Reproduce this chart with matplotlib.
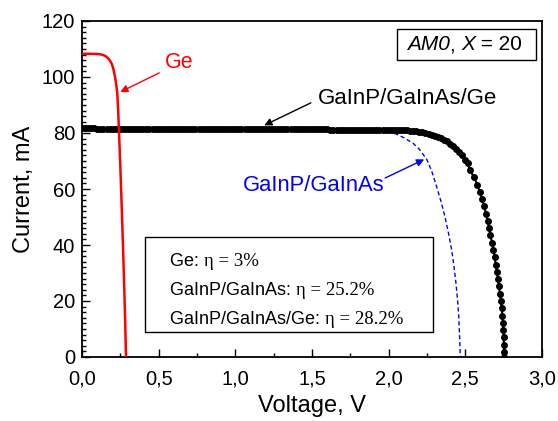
import matplotlib
matplotlib.use("Agg")
import matplotlib.pyplot as plt
from matplotlib.patches import Rectangle

plt.rcParams['font.family'] = ['Liberation Sans', 'DejaVu Sans']

# ---- data ----
ge_v = [0.00, 0.05, 0.10, 0.12, 0.14, 0.155, 0.17, 0.183, 0.194, 0.203, 0.211,
        0.218, 0.224, 0.23, 0.236, 0.241, 0.25, 0.259, 0.268, 0.276, 0.282, 0.287]
ge_i = [108.3, 108.3, 108.2, 108.1, 107.8, 107.4, 106.7, 105.8, 104.7, 103.2, 101.3,
        99.2, 96.9, 94.2, 88.0, 81.0, 68.0, 53.7, 38.5, 23.9, 12.0, 0.0]

tj_v = [0.00, 1.00, 1.80, 1.95, 2.01, 2.05, 2.10, 2.16, 2.20, 2.248, 2.28, 2.313,
        2.34, 2.367, 2.39, 2.411, 2.427, 2.439, 2.45, 2.457, 2.462, 2.466, 2.468]
tj_i = [81.2, 81.0, 80.8, 80.6, 80.3, 79.6, 78.3, 76.3, 74.2, 70.6, 66.5, 60.8,
        55.8, 50.1, 44.3, 38.2, 32.0, 26.3, 20.0, 14.4, 8.0, 2.0, 0.0]

mj_v = [0.00, 0.02, 0.04, 0.06, 0.08, 0.10, 0.12, 0.14, 0.16, 0.18, 0.20, 0.22,
        0.24, 0.26, 0.28, 0.30, 0.32, 0.34, 0.36, 0.38, 0.40, 0.42, 0.44, 0.46,
        0.48, 0.50, 0.52, 0.54, 0.56, 0.58, 0.60, 0.62, 0.64, 0.66, 0.68, 0.70,
        0.72, 0.74, 0.76, 0.78, 0.80, 0.82, 0.84, 0.86, 0.88, 0.90, 0.92, 0.94,
        0.96, 0.98, 1.00, 1.02, 1.04, 1.06, 1.08, 1.10, 1.12, 1.14, 1.16, 1.18,
        1.20, 1.22, 1.24, 1.26, 1.28, 1.30, 1.32, 1.34, 1.36, 1.38, 1.40, 1.42,
        1.44, 1.46, 1.48, 1.50, 1.52, 1.54, 1.56, 1.58, 1.60, 1.62, 1.64, 1.66,
        1.68, 1.70, 1.72, 1.74, 1.76, 1.78, 1.80, 1.82, 1.84, 1.86, 1.88, 1.90,
        1.92, 1.94, 1.96, 1.98, 2.00, 2.02, 2.04, 2.06, 2.08, 2.10, 2.12, 2.14,
        2.16, 2.18, 2.20, 2.22, 2.24, 2.26, 2.28, 2.30, 2.32, 2.34, 2.36, 2.38,
        2.40, 2.42, 2.44, 2.46, 2.48, 2.50, 2.515, 2.530, 2.556, 2.578, 2.594,
        2.609, 2.622, 2.635, 2.645, 2.655, 2.664, 2.674, 2.683, 2.691, 2.698,
        2.705, 2.712, 2.719, 2.726, 2.732, 2.737, 2.742, 2.745, 2.748, 2.750,
        2.752, 2.754, 2.755]
mj_i = [81.7, 81.7, 81.7, 81.7, 81.7, 81.6, 81.6, 81.6, 81.6, 81.6, 81.6, 81.6,
        81.6, 81.6, 81.6, 81.5, 81.5, 81.5, 81.5, 81.5, 81.5, 81.5, 81.5, 81.5,
        81.5, 81.5, 81.5, 81.5, 81.5, 81.5, 81.5, 81.4, 81.4, 81.4, 81.4, 81.4,
        81.4, 81.4, 81.4, 81.4, 81.4, 81.4, 81.4, 81.4, 81.4, 81.4, 81.4, 81.4,
        81.4, 81.4, 81.4, 81.4, 81.4, 81.4, 81.4, 81.4, 81.3, 81.3, 81.3, 81.3,
        81.3, 81.3, 81.3, 81.3, 81.3, 81.3, 81.3, 81.3, 81.3, 81.3, 81.3, 81.3,
        81.3, 81.3, 81.3, 81.3, 81.3, 81.3, 81.3, 81.3, 81.3, 81.2, 81.2, 81.2,
        81.2, 81.2, 81.2, 81.2, 81.2, 81.2, 81.2, 81.2, 81.2, 81.2, 81.2, 81.2,
        81.2, 81.2, 81.2, 81.2, 81.2, 81.1, 81.1, 81.0, 81.0, 80.9, 80.9, 80.8,
        80.7, 80.6, 80.4, 80.2, 80.0, 79.7, 79.4, 79.0, 78.6, 78.1, 77.6, 77.0,
        76.2, 75.4, 74.4, 73.3, 72.0, 70.5, 69.2, 66.8, 64.2, 61.6, 59.0,
        56.4, 53.8, 51.2, 48.6, 46.0, 43.4, 40.8, 38.2, 35.6, 33.0,
        30.4, 27.8, 25.2, 22.6, 20.0, 17.4, 14.8, 12.2, 9.6, 7.0,
        4.4, 1.8, 0.0]

xticks = [0.0, 0.5, 1.0, 1.5, 2.0, 2.5, 3.0]
xtick_labels = ["0,0", "0,5", "1,0", "1,5", "2,0", "2,5", "3,0"]
yticks = [0, 20, 40, 60, 80, 100, 120]

eff_names = ["Ge: ", "GaInP/GaInAs: ", "GaInP/GaInAs/Ge: "]
eff_values = ["η = 3%", "η = 25.2%", "η = 28.2%"]

# ---- figure ----
fig = plt.figure(figsize=(5.58, 4.21), dpi=100)
ax = fig.add_axes([82/558, 1-357/421, 460/558, 336/421])

ax.plot(tj_v, tj_i, color='blue', lw=1.0, ls=(0, (3, 2)), zorder=2)
ax.plot(mj_v, mj_i, color='black', lw=1.5, marker='o', ms=4.0, zorder=3)
ax.plot(ge_v, ge_i, color='red', lw=1.8, zorder=4)

ax.set_xlim(0, 3.0)
ax.set_ylim(0, 120)
ax.set_xticks(xticks)
ax.set_xticklabels(xtick_labels)
ax.set_yticks(yticks)
ax.set_xticks([0.25, 0.75, 1.25, 1.75, 2.25, 2.75], minor=True)
ax.set_yticks(list(range(0, 121, 2)), minor=True)
ax.tick_params(which='both', direction='in', top=False, right=False,
               labelsize=14.5, width=1.0)
ax.tick_params(which='major', length=6)
ax.tick_params(axis='x', which='major', pad=9)
ax.tick_params(axis='y', which='major', pad=5)
ax.tick_params(which='minor', length=3)
for s in ax.spines.values():
    s.set_linewidth(1.3)

ax.set_xlabel("Voltage, V", fontsize=17, labelpad=5)
ax.set_ylabel("Current, mA", fontsize=17, labelpad=5)

# annotations
ax.annotate("", xy=(0.233, 94.2), xytext=(0.52, 101.9),
            arrowprops=dict(arrowstyle='-|>', color='red', lw=1.0, mutation_scale=11))
ax.text(0.633, 105.2, "Ge", color='red', fontsize=15.5, ha='center', va='center')

ax.annotate("", xy=(1.172, 82.3), xytext=(1.509, 91.2),
            arrowprops=dict(arrowstyle='-|>', color='black', lw=1.0, mutation_scale=11),
            zorder=5)
ax.text(1.541, 92.4, "GaInP/GaInAs/Ge", color='black', fontsize=16, ha='left', va='center')

ax.annotate("", xy=(2.248, 71.0), xytext=(1.961, 63.5),
            arrowprops=dict(arrowstyle='-|>', color='blue', lw=1.0, mutation_scale=11))
ax.text(1.048, 61.1, "GaInP/GaInAs", color='blue', fontsize=15.8, ha='left', va='center')

# AM0 box
ax.add_patch(Rectangle((2.057, 106.1), 2.961-2.057, 117.0-106.1, fill=False,
                       lw=1.0, ec='black', zorder=5))
parts = [("AM0", 'italic'), (", ", 'normal'), ("X", 'italic'), (" = 20", 'normal')]
prev = ax.text(2.118, 111.5, parts[0][0], fontsize=15, style=parts[0][1],
               ha='left', va='center', zorder=6)
for txt, st in parts[1:]:
    prev = ax.annotate(txt, xy=(1, 0.5), xycoords=prev, fontsize=15, style=st,
                       ha='left', va='center', zorder=6)

# efficiency box
ax.add_patch(Rectangle((0.411, 9.04), 2.291-0.411, 42.75-9.04, fill=True,
                       fc='white', lw=1.0, ec='black', zorder=5))
for y, name, val in zip([34.0, 23.7, 13.5], eff_names, eff_values):
    t1 = ax.text(0.574, y, name, fontsize=13, ha='left', va='center', zorder=6)
    ax.annotate(val, xy=(1, 0.5), xycoords=t1, fontsize=13.5,
                family=['Liberation Serif', 'DejaVu Serif'],
                ha='left', va='center', zorder=6)

fig.savefig("out.png", dpi=100)
